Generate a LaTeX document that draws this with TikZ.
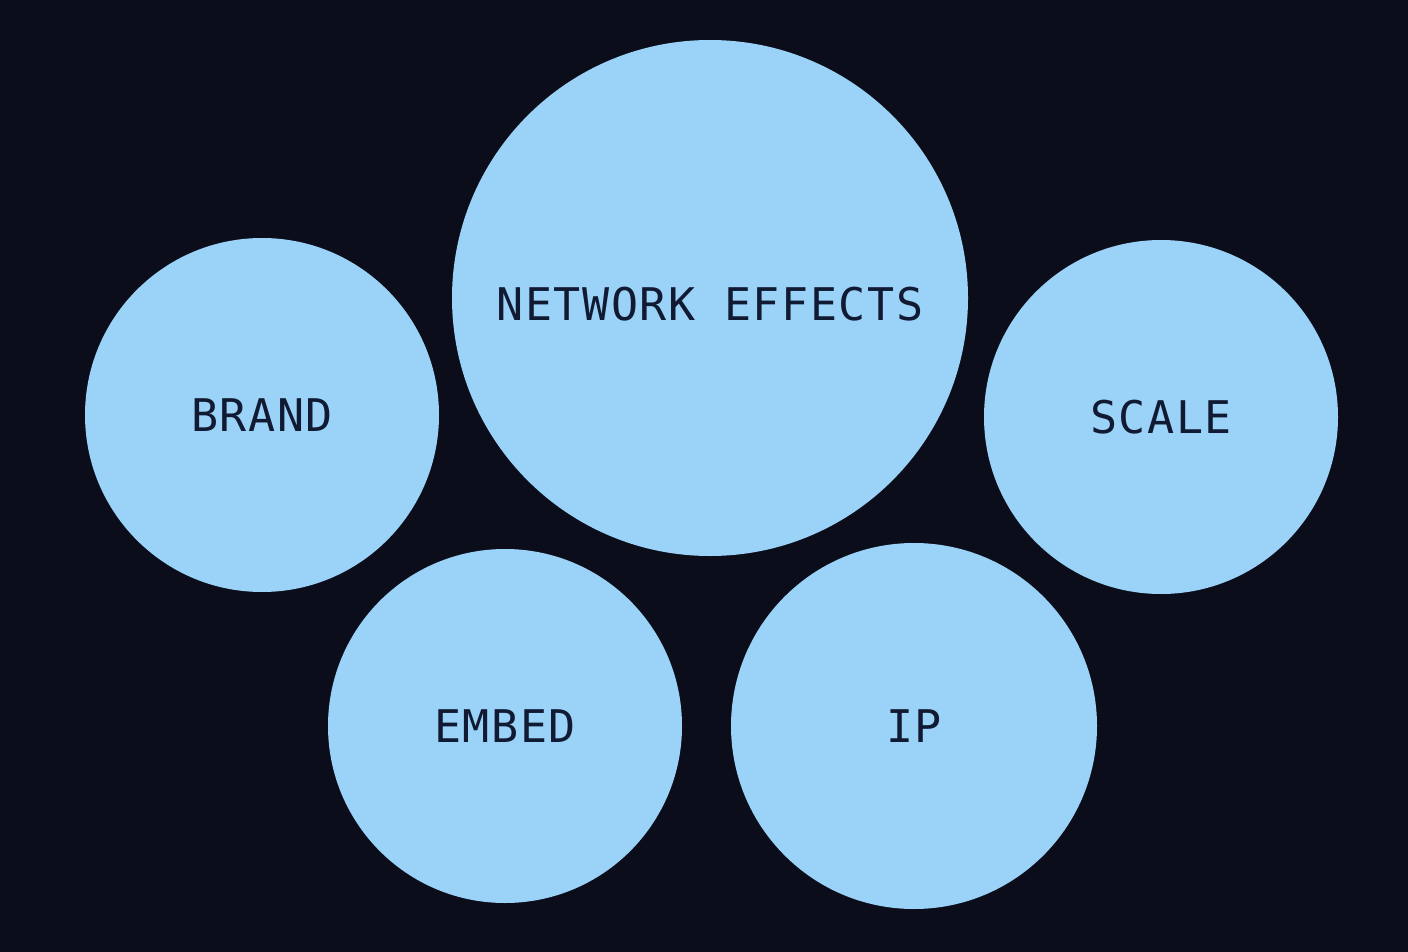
\documentclass[tikz,border=0pt]{standalone}
\usepackage{fontspec}
\setmonofont{DejaVu Sans Mono}
\newlength{\du}
\setlength{\du}{1pt}
\definecolor{bgcolor}{HTML}{0B0D1B}
\definecolor{bubblecolor}{HTML}{9BD2F7}
\definecolor{labelcolor}{HTML}{111A33}
\tikzset{
  bubble/.style={circle,fill=bubblecolor,draw=none,inner sep=0pt,
    text=labelcolor,font=\fontsize{45}{54}\selectfont\ttfamily\addfontfeatures{LetterSpace=3.5}},
}

\begin{document}
\begin{tikzpicture}[yscale=-1]
% background
\fill[bgcolor] (0\du,0\du) rectangle (1408\du,952\du);
\node[bubble,minimum size=516\du,text height=45pt,text depth=0pt] (network) at (710\du,298\du){NETWORK EFFECTS};
\node[bubble,minimum size=354\du] (brand) at (262\du,415\du){BRAND};
\node[bubble,minimum size=354\du] (scale) at (1161\du,417\du){SCALE};
\node[bubble,minimum size=354\du] (embed) at (505\du,726\du){EMBED};
\node[bubble,minimum size=366\du] (ip) at (914\du,726\du){IP};
\end{tikzpicture}
\end{document}
